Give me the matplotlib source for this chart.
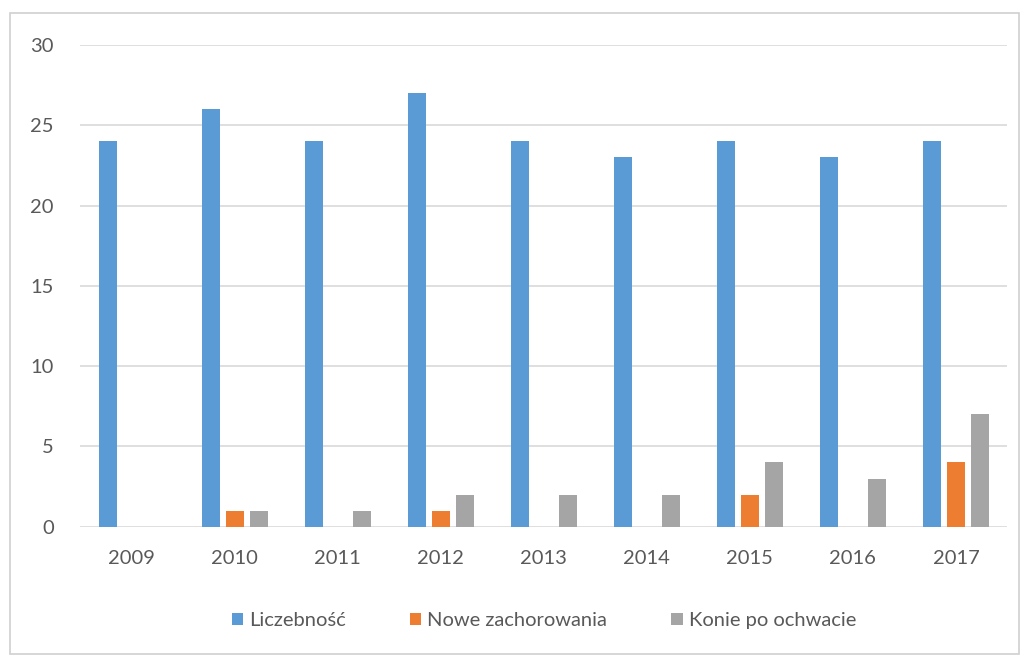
import numpy as np
import matplotlib
matplotlib.use("Agg")
import matplotlib.pyplot as plt
from matplotlib.patches import Rectangle

years = ["2009", "2010", "2011", "2012", "2013", "2014", "2015", "2016", "2017"]
liczebnosc = [24, 26, 24, 27, 24, 23, 24, 23, 24]
nowe = [0, 1, 0, 1, 0, 0, 2, 0, 4]
konie = [0, 1, 1, 2, 2, 2, 4, 3, 7]
labels = ["Liczebność", "Nowe zachorowania", "Konie po ochwacie"]
colors = ["#5B9BD5", "#ED7D31", "#A5A5A5"]

plt.rcParams['font.family'] = ['Lato', 'DejaVu Sans']

fig = plt.figure(figsize=(10.27, 6.62), dpi=100)
# frame around the chart
fig.patches.append(Rectangle((0.010, 0.012), 0.982, 0.968, transform=fig.transFigure,
                             fill=False, edgecolor="#D0D0D0", linewidth=1.2))
ax = fig.add_axes([0.078, 0.2044, 0.903, 0.7276])

x = np.arange(len(years))
w = 0.175
step = 0.233
for i, (vals, lab, c) in enumerate(zip([liczebnosc, nowe, konie], labels, colors)):
    ax.bar(x + (i - 1) * step, vals, width=w, color=c, label=lab, zorder=3)

ax.set_xlim(-0.5, len(years) - 0.5)
ax.set_ylim(0, 30)
ax.set_yticks(range(0, 31, 5))
ax.set_xticks(x)
ax.set_xticklabels(years)
ax.yaxis.grid(True, color="#D9D9D9", linewidth=1.2, zorder=0)
for s in ax.spines.values():
    s.set_visible(False)
ax.tick_params(length=0, labelsize=14.5, colors="#595959")
ax.tick_params(axis="x", pad=17)
ax.tick_params(axis="y", pad=19)

ax.legend(loc="upper center", bbox_to_anchor=(0.5, -0.14), ncol=3, frameon=False,
          fontsize=14.5, labelcolor="#595959", handlelength=0.55, handleheight=0.55,
          handletextpad=0.3, columnspacing=3.2)

fig.savefig("out.png", dpi=100)
